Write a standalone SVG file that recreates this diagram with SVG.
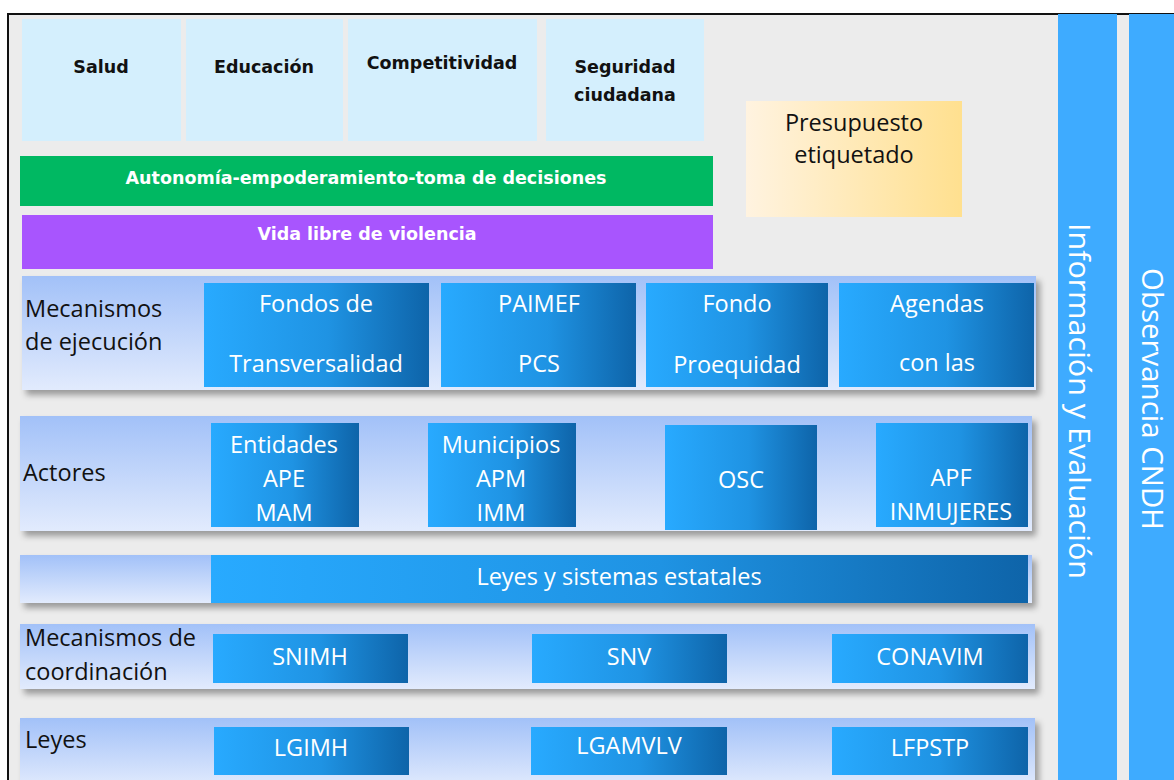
<svg xmlns="http://www.w3.org/2000/svg" width="1174" height="780" viewBox="0 0 1174 780">
<defs>
<linearGradient id="bx" x1="0" y1="0" x2="1" y2="0">
<stop offset="0" stop-color="#28aaff"/><stop offset="0.55" stop-color="#1f93e3"/><stop offset="1" stop-color="#0e64a9"/>
</linearGradient>
<linearGradient id="pn" x1="0" y1="0" x2="0" y2="1">
<stop offset="0" stop-color="#a2c1f8"/><stop offset="1" stop-color="#e2ebfd"/>
</linearGradient>
<linearGradient id="pr" x1="0" y1="0" x2="1" y2="0">
<stop offset="0" stop-color="#fff3e0"/><stop offset="1" stop-color="#ffe08f"/>
</linearGradient>
<filter id="sh" x="-5%" y="-20%" width="112%" height="150%">
<feDropShadow dx="4" dy="5" stdDeviation="3" flood-color="#000" flood-opacity="0.35"/>
</filter>
<style>
.top{fill:#d4effd}
.tb{font-family:"DejaVu Sans",sans-serif;font-weight:bold;font-size:17.5px;fill:#111;text-anchor:middle}
.wb{font-family:"DejaVu Sans",sans-serif;font-weight:bold;font-size:17.5px;fill:#fff;text-anchor:middle}
.w{font-family:"Open Sans",sans-serif;font-size:23.5px;fill:#fff;text-anchor:middle}
.k{font-family:"Open Sans",sans-serif;font-size:23.5px;fill:#111}
.v{font-family:"Open Sans",sans-serif;font-size:29px;fill:#fff;text-anchor:middle}
.pn{fill:url(#pn);filter:url(#sh)}
.bx{fill:url(#bx)}
</style>
</defs>
<rect x="0" y="0" width="1174" height="780" fill="#fff"/>
<rect x="8" y="14" width="1166" height="766" fill="#ececec"/>
<path d="M8 780 V14 H1174" fill="none" stroke="#111" stroke-width="2"/>

<g id="salud"><rect class="top" x="22" y="19" width="159" height="122"/><text class="tb" x="101" y="73">Salud</text></g>
<g id="educacion"><rect class="top" x="186" y="19" width="157" height="122"/><text class="tb" x="264" y="73">Educación</text></g>
<g id="competitividad"><rect class="top" x="348" y="19" width="189" height="122"/><text class="tb" x="442" y="69">Competitividad</text></g>
<g id="seguridad"><rect class="top" x="546" y="19" width="158" height="122"/><text class="tb" x="625" y="73">Seguridad</text><text class="tb" x="625" y="101">ciudadana</text></g>

<g id="autonomia"><rect x="20" y="156" width="693" height="50" fill="#00b862"/><text class="wb" x="366" y="184">Autonomía-empoderamiento-toma de decisiones</text></g>
<g id="vida"><rect x="22" y="215" width="691" height="54" fill="#a855fe"/><text class="wb" x="367" y="240">Vida libre de violencia</text></g>

<g id="presupuesto"><rect x="746" y="101" width="216" height="116" fill="url(#pr)"/>
<text class="k" x="854" y="131" text-anchor="middle" font-size="22.5">Presupuesto</text><text class="k" x="854" y="163" text-anchor="middle" font-size="22.5">etiquetado</text></g>

<g id="informacion"><rect x="1058" y="14" width="59" height="766" fill="#3eabff"/>
<text class="v" transform="translate(1069,401) rotate(90)" textLength="356" lengthAdjust="spacingAndGlyphs">Información y Evaluación</text></g>
<g id="observancia"><rect x="1129" y="14" width="45" height="766" fill="#3eabff"/>
<text class="v" transform="translate(1142,399) rotate(90)" textLength="262" lengthAdjust="spacingAndGlyphs">Observancia CNDH</text></g>

<g id="row-ejecucion">
<rect class="pn" x="22" y="276" width="1014" height="114"/>
<text class="k" x="25" y="317">Mecanismos</text><text class="k" x="25" y="350">de ejecución</text>
<g id="fondos"><rect class="bx" x="204" y="283" width="225" height="104"/><text class="w" x="316" y="312">Fondos de</text><text class="w" x="316" y="372">Transversalidad</text></g>
<g id="paimef"><rect class="bx" x="441" y="283" width="195" height="104"/><text class="w" x="539" y="312">PAIMEF</text><text class="w" x="539" y="372">PCS</text></g>
<g id="proequidad"><rect class="bx" x="646" y="283" width="182" height="104"/><text class="w" x="737" y="312">Fondo</text><text class="w" x="737" y="373">Proequidad</text></g>
<g id="agendas"><rect class="bx" x="839" y="283" width="195" height="104"/><text class="w" x="937" y="312">Agendas</text><text class="w" x="937" y="371">con las</text></g>
</g>

<g id="row-actores">
<rect class="pn" x="20" y="416" width="1012" height="115"/>
<text class="k" x="23" y="481">Actores</text>
<g id="entidades"><rect class="bx" x="211" y="423" width="148" height="104"/><text class="w" x="284" y="453">Entidades</text><text class="w" x="284" y="487">APE</text><text class="w" x="284" y="521">MAM</text></g>
<g id="municipios"><rect class="bx" x="428" y="423" width="148" height="104"/><text class="w" x="501" y="453">Municipios</text><text class="w" x="501" y="487">APM</text><text class="w" x="501" y="521">IMM</text></g>
<g id="osc"><rect class="bx" x="665" y="425" width="152" height="105"/><text class="w" x="741" y="488">OSC</text></g>
<g id="apf"><rect class="bx" x="876" y="423" width="152" height="104"/><text class="w" x="951" y="486">APF</text><text class="w" x="951" y="520">INMUJERES</text></g>
</g>

<g id="row-leyes-sistemas">
<rect class="pn" x="20" y="555" width="1012" height="48"/>
<g id="leyes-sistemas"><rect class="bx" x="211" y="555" width="817" height="48"/><text class="w" x="619" y="585">Leyes y sistemas estatales</text></g>
</g>

<g id="row-coordinacion">
<rect class="pn" x="20" y="624" width="1015" height="65"/>
<text class="k" x="25" y="646">Mecanismos de</text><text class="k" x="25" y="680">coordinación</text>
<g id="snimh"><rect class="bx" x="213" y="634" width="195" height="49"/><text class="w" x="310" y="665">SNIMH</text></g>
<g id="snv"><rect class="bx" x="532" y="634" width="195" height="49"/><text class="w" x="629" y="665">SNV</text></g>
<g id="conavim"><rect class="bx" x="832" y="634" width="196" height="49"/><text class="w" x="930" y="665">CONAVIM</text></g>
</g>

<g id="row-leyes">
<rect class="pn" x="20" y="718" width="1015" height="70"/>
<text class="k" x="25" y="748">Leyes</text>
<g id="lgimh"><rect class="bx" x="214" y="727" width="195" height="48"/><text class="w" x="311" y="756">LGIMH</text></g>
<g id="lgamvlv"><rect class="bx" x="531" y="727" width="196" height="48"/><text class="w" x="629" y="754">LGAMVLV</text></g>
<g id="lfpstp"><rect class="bx" x="832" y="727" width="196" height="48"/><text class="w" x="930" y="756">LFPSTP</text></g>
</g>
<g id="connectors"/>
</svg>
